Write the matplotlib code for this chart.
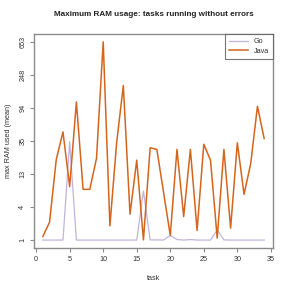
import numpy as np
import matplotlib
matplotlib.use("Agg")
import matplotlib.pyplot as plt

plt.rcParams["font.family"] = ["Liberation Sans", "DejaVu Sans"]

tasks = np.arange(1, 35)
go_ram = [0.99, 0.99, 0.99, 0.99, 34.2, 0.99, 0.99, 0.99, 0.99, 0.99,
          0.99, 0.99, 0.99, 0.99, 0.99, 7.36, 1.0, 1.0, 0.99, 1.28,
          1.02, 0.99, 1.02, 0.99, 0.99, 0.99, 1.68, 1.0, 0.99, 0.99,
          0.99, 0.99, 0.99, 0.99]
java_ram = [1.21, 2.36, 20.0, 46.1, 8.5, 112, 7.78, 7.78, 20.7, 653,
            2.02, 33, 182, 3.24, 19.6, 1.0, 28.6, 27.2, 7.04, 1.28,
            27.2, 2.96, 27.2, 1.64, 31.8, 19.6, 1.11, 27.2, 1.82, 33.2,
            6.59, 17.7, 98.4, 37.8]

go_col = "#c3b3dc"
java_col = "#d5651c"
axis_col = "#8c8c8c"
text_col = "#333333"

fig = plt.figure(figsize=(2.91, 2.91), dpi=100)
ax = fig.add_axes([34 / 291, 43 / 291, 239 / 291, 214 / 291])

ax.plot(tasks, go_ram, color=go_col, lw=0.9, label="Go")
ax.plot(tasks, java_ram, color=java_col, lw=1.1, label="Java")

# log(1 + x) axis, 7 evenly spaced ticks like the original
ax.set_yscale("function", functions=(np.log1p, np.expm1))
lo = np.log1p(min(min(go_ram), min(java_ram)))
hi = np.log1p(max(max(go_ram), max(java_ram)))
pad = (hi - lo) * 0.04
ax.set_ylim(np.expm1(lo - pad), np.expm1(hi + pad))
yt = np.expm1(np.linspace(lo, hi, 7))
ax.set_yticks(yt)
ax.set_yticklabels([str(int(round(v))) for v in yt], rotation=90, va="center")
ax.minorticks_off()

ax.set_xlim(1 - 33 * 0.04, 34 + 33 * 0.04)
ax.set_xticks(range(0, 36, 5))

for s in ax.spines.values():
    s.set_color(axis_col)
    s.set_linewidth(1.0)
ax.tick_params(colors=axis_col, labelcolor=text_col, labelsize=5.2, length=3, width=0.8, pad=2.5)

ax.set_title("Maximum RAM usage: tasks running without errors", fontsize=5.9,
             fontweight="bold", color="#222222", pad=13)
ax.set_xlabel("task", fontsize=5.2, color=text_col, labelpad=9)
ax.set_ylabel("max RAM used (mean)", fontsize=5.2, color=text_col, labelpad=5)

leg = ax.legend(loc="upper right", fontsize=5.2, frameon=True, fancybox=False,
                borderaxespad=0, handlelength=2.6, borderpad=0.55, labelspacing=0.35,
                handletextpad=0.8)
leg.get_frame().set_edgecolor("#555555")
leg.get_frame().set_linewidth(0.8)
for t in leg.get_texts():
    t.set_color(text_col)

fig.savefig("out.png", dpi=100)
